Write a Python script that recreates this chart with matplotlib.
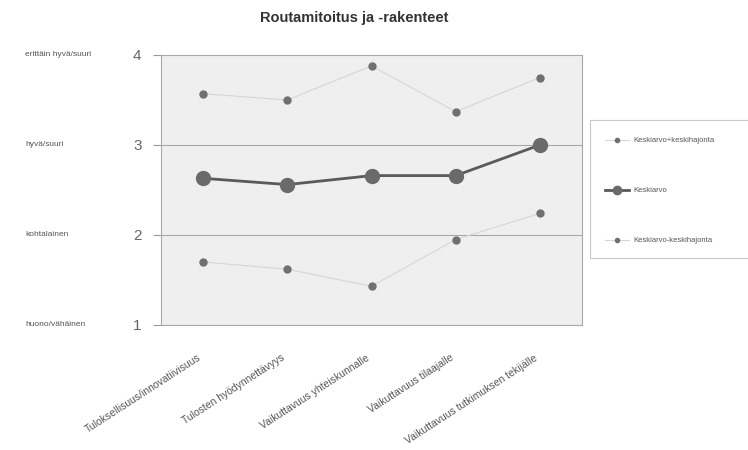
import matplotlib.pyplot as plt
import matplotlib.transforms as mtransforms
from matplotlib.patches import Rectangle

# arvosanat kysymyksittäin (asteikko 1-4)
categories = ["Tuloksellisuus/innovatiivisuus", "Tulosten hyödynnettävyys",
              "Vaikuttavuus yhteiskunnalle", "Vaikuttavuus tilaajalle",
              "Vaikuttavuus tutkimuksen tekijälle"]
upper = [3.57, 3.50, 3.88, 3.37, 3.75]
mean = [2.63, 2.56, 2.66, 2.66, 3.00]
lower = [1.70, 1.62, 1.43, 1.95, 2.24]
scale_labels = ["huono/vähäinen", "kohtalainen", "hyvä/suuri", "erittäin hyvä/suuri"]
scale_values = [1, 2, 3, 4]

plt.rcParams['font.family'] = ['Liberation Sans', 'DejaVu Sans']

fig = plt.figure(figsize=(7.48, 4.5), dpi=100)
ax = fig.add_axes([161 / 748, 1 - 325 / 450, 421 / 748, 270 / 450])
ax.set_facecolor("#efefef")

x = list(range(len(categories)))
l_up, = ax.plot(x, upper, color="#d6d6d6", lw=0.8, marker="o", ms=5,
                mfc="#707070", mec="#707070", label="Keskiarvo+keskihajonta")
l_mean, = ax.plot(x, mean, color="#5a5a5a", lw=2.0, marker="o", ms=10,
                  mfc="#6a6a6a", mec="#6a6a6a", label="Keskiarvo")
l_low, = ax.plot(x, lower, color="#d6d6d6", lw=0.8, marker="o", ms=5,
                 mfc="#707070", mec="#707070", label="Keskiarvo-keskihajonta")

ax.set_xlim(-0.5, len(categories) - 0.5)
ax.set_ylim(1, 4)
ax.set_yticks(scale_values)
ax.set_yticklabels([str(v) for v in scale_values], fontsize=11, color="#666666")
ax.tick_params(axis="y", length=6, color="#999999", pad=8)
ax.set_xticks(x)
ax.set_xticklabels(categories, rotation=33, ha="right", rotation_mode="anchor",
                   fontsize=7.5, color="#555555")
ax.tick_params(axis="x", length=0, pad=20)
for lab in ax.get_xticklabels():
    lab.set_transform(lab.get_transform() + mtransforms.ScaledTranslation(-6 / 100, 0, fig.dpi_scale_trans))
for v in [2, 3]:
    ax.axhline(v, color="#a8a8a8", lw=0.8, zorder=0)
for s in ax.spines.values():
    s.set_color("#a8a8a8")
    s.set_linewidth(0.8)

# sanalliset asteikon selitteet vasempaan reunaan
trans = mtransforms.blended_transform_factory(fig.transFigure, ax.transData)
for v, lab in zip(scale_values, scale_labels):
    fig.text(25 / 748, v, lab, transform=trans, fontsize=6, color="#555555",
             ha="left", va="center")

fig.text(0.474, 1 - 18 / 450, "Routamitoitus ja -rakenteet", fontsize=10.5,
         fontweight="bold", color="#333333", ha="center", va="center")

# selitelaatikko, joka jatkuu kuvan reunan yli
fig.patches.append(Rectangle((590 / 748, 1 - 258 / 450), 200 / 748, 138 / 450,
                             transform=fig.transFigure, facecolor="white",
                             edgecolor="#c8c8c8", lw=0.8))
fig.legend(handles=[l_up, l_mean, l_low], loc="upper left",
           bbox_to_anchor=(598 / 748, 1 - 130 / 450), frameon=False,
           fontsize=5.5, labelspacing=5.6, handlelength=3.2, handletextpad=0.5,
           markerscale=0.6, labelcolor="#555555")

fig.savefig("out.png", dpi=100)
